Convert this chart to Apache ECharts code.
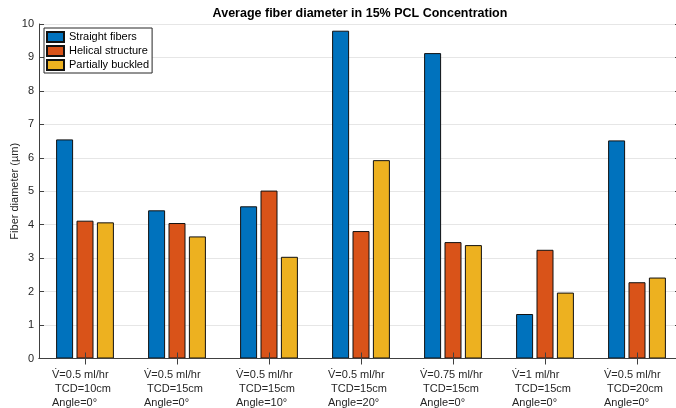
<!DOCTYPE html>
<html>
<head>
<meta charset="utf-8">
<script src="https://cdn.jsdelivr.net/npm/echarts@6/dist/echarts.min.js"></script>
<style>
  html, body { margin: 0; padding: 0; background: #fff; }
  #chart { width: 676px; height: 408px; }
</style>
</head>
<body>
<div id="chart"></div>
<script>
// Process settings for each group of bars (three label lines each)
const flowRateLabels = ['V\u0307=0.5 ml/hr', 'V\u0307=0.5 ml/hr', 'V\u0307=0.5 ml/hr', 'V\u0307=0.5 ml/hr', 'V\u0307=0.75 ml/hr', 'V\u0307=1 ml/hr', 'V\u0307=0.5 ml/hr'];
const tcdLabels = [' TCD=10cm', ' TCD=15cm', ' TCD=15cm', ' TCD=15cm', ' TCD=15cm', ' TCD=15cm', ' TCD=20cm'];
const angleLabels = ['Angle=0\u00b0', 'Angle=0\u00b0', 'Angle=10\u00b0', 'Angle=20\u00b0', 'Angle=0\u00b0', 'Angle=0\u00b0', 'Angle=0\u00b0'];

// Average fiber diameters (µm)
const straightFibers = [6.55, 4.43, 4.55, 9.80, 9.13, 1.33, 6.52];
const helicalStructure = [4.12, 4.05, 5.02, 3.81, 3.48, 3.25, 2.28];
const partiallyBuckled = [4.07, 3.65, 3.04, 5.93, 3.39, 1.97, 2.42];

const seriesNames = ['Straight fibers', 'Helical structure', 'Partially buckled'];
const seriesColors = ['#0072BD', '#D95319', '#EDB120'];
const yTicks = [0, 1, 2, 3, 4, 5, 6, 7, 8, 9, 10];

const categories = flowRateLabels.map((v, i) => i);
const FONT = 'Liberation Sans, Arial, Helvetica, sans-serif';
const AXIS_COLOR = '#404040';

const chart = echarts.init(document.getElementById('chart'), null, { renderer: 'canvas' });

const barSeries = [straightFibers, helicalStructure, partiallyBuckled].map((vals, i) => ({
  name: seriesNames[i],
  type: 'bar',
  xAxisIndex: 0,
  yAxisIndex: 0,
  data: vals,
  barWidth: 17,
  barGap: '20%',
  itemStyle: { color: seriesColors[i], borderColor: '#111', borderWidth: 1 },
  emphasis: { disabled: true },
  z: 2
}));

chart.setOption({
  animation: false,
  backgroundColor: '#fff',
  title: {
    text: 'Average fiber diameter in 15% PCL Concentration',
    left: 360,
    top: 7,
    padding: 0,
    textAlign: 'center',
    textStyle: { fontFamily: FONT, fontSize: 12.5, fontWeight: 'bold', color: '#000' }
  },
  legend: {
    data: seriesNames,
    orient: 'vertical',
    left: 44,
    top: 28,
    padding: [3, 3, 2, 2],
    itemWidth: 17,
    itemHeight: 10,
    itemGap: 2,
    itemTextGap: 2,
    icon: 'rect',
    backgroundColor: '#fff',
    borderColor: '#262626',
    borderWidth: 1,
    borderRadius: 0,
    textStyle: { fontFamily: FONT, fontSize: 11, color: '#000', lineHeight: 12 },
    selectedMode: false
  },
  grid: { left: 39, right: -7, top: 24, bottom: 49.5, containLabel: false, outerBoundsMode: 'none' },
  xAxis: [
    {
      type: 'category',
      data: categories,
      position: 'bottom',
      z: 10,
      axisLine: { show: true, lineStyle: { color: AXIS_COLOR, width: 1 } },
      axisTick: { show: true, inside: true, length: 6, alignWithLabel: true, lineStyle: { color: AXIS_COLOR } },
      splitLine: { show: false },
      axisLabel: {
        interval: 0,
        margin: 9,
        color: '#262626',
        fontFamily: FONT,
        fontSize: 11,
        lineHeight: 14,
        formatter: (v, i) => '{t|' + flowRateLabels[i] + '}\n{t|' + tcdLabels[i] + '}\n{t|' + angleLabels[i] + '}',
        rich: { t: { width: 66, align: 'left', fontFamily: FONT, fontSize: 11, lineHeight: 14, color: '#262626' } }
      }
    },
    {
      type: 'category',
      data: categories,
      position: 'top',
      z: 10,
      axisLine: { show: true, lineStyle: { color: AXIS_COLOR, width: 1 } },
      axisTick: { show: true, inside: true, length: 6, alignWithLabel: true, lineStyle: { color: AXIS_COLOR } },
      axisLabel: { show: false },
      splitLine: { show: false }
    }
  ],
  yAxis: [
    {
      type: 'value',
      min: 0,
      max: 10,
      interval: 1,
      name: 'Fiber diameter (\u00b5m)',
      nameLocation: 'middle',
      nameGap: 19,
      nameRotate: 90,
      nameMoveOverlap: false,
      nameTextStyle: { fontFamily: FONT, fontSize: 11, color: '#262626' },
      axisLine: { show: true, lineStyle: { color: AXIS_COLOR, width: 1 } },
      axisTick: { show: true, inside: true, length: 5, lineStyle: { color: AXIS_COLOR } },
      axisLabel: {
        margin: 5,
        color: '#262626',
        fontFamily: FONT,
        fontSize: 11,
        formatter: v => (yTicks.indexOf(v) >= 0 ? String(v) : '')
      },
      splitLine: { show: true, lineStyle: { color: '#e6e6e6', width: 1 } }
    },
    {
      type: 'value',
      min: 0,
      max: 10,
      interval: 1,
      position: 'right',
      axisLine: { show: true, lineStyle: { color: AXIS_COLOR, width: 1 } },
      axisTick: { show: true, inside: true, length: 8, lineStyle: { color: AXIS_COLOR } },
      axisLabel: { show: false },
      splitLine: { show: false }
    }
  ],
  series: barSeries
});
</script>
</body>
</html>
